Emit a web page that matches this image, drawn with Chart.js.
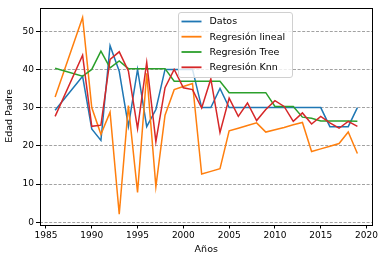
<!DOCTYPE html>
<html><head><meta charset="utf-8">
<script src="https://cdn.jsdelivr.net/npm/chart.js@4.4.1/dist/chart.umd.min.js"></script>
<style>html,body{margin:0;padding:0;background:#fff;overflow:hidden}#wrap{width:382px;height:261px;position:relative}</style>
</head><body><div id="wrap"><canvas id="c"></canvas></div>
<script>
const years  = [1986,1989,1990,1991,1992,1993,1994,1995,1996,1997,1998,1999,2000,2001,2002,2003,2004,2005,2006,2007,2008,2009,2010,2011,2012,2013,2014,2015,2016,2017,2018,2019];
const datos  = [29.3,38.2,24.4,21.4,46.2,39.5,25.1,40.0,25.0,29.5,40.0,40.0,40.0,40.0,30.0,30.0,35.0,30.0,30.0,30.0,30.0,30.0,30.0,30.0,30.0,30.0,30.0,30.0,25.0,25.0,25.0,30.0];
const lineal = [32.8,53.6,30.0,23.0,28.8,2.1,30.5,7.8,39.0,9.3,28.0,34.7,35.5,36.3,12.6,13.3,14.0,23.9,24.6,25.3,26.0,23.6,24.2,24.8,25.5,26.1,18.5,19.2,19.9,20.6,23.6,18.0];
const tree   = [40.3,38.2,40.0,44.8,40.4,42.2,40.2,40.2,40.2,40.2,40.2,36.9,36.9,36.9,36.9,36.9,36.9,33.9,33.9,33.9,33.9,33.9,30.3,30.3,30.3,27.5,27.2,26.5,26.5,26.5,26.5,26.4];
const knn    = [27.7,43.7,25.1,25.4,42.6,44.6,39.6,24.5,41.8,21.1,35.2,40.0,35.2,34.7,29.9,37.5,23.5,32.5,27.7,31.2,26.6,29.5,31.8,30.3,26.4,28.6,25.7,27.7,26.0,24.6,26.4,25.1];
const seriesNames  = ['Datos','Regresión lineal','Regresión Tree','Regresión Knn'];
const seriesColors = ['#1f77b4','#ff7f0e','#2ca02c','#d62728'];
const seriesValues = [datos, lineal, tree, knn];
const xTicks = [1985,1990,1995,2000,2005,2010,2015,2020];
const yTicks = [0,10,20,30,40,50];
const xTitle = 'Años';
const yTitle = 'Edad Padre';

const FONT = 'DejaVu Sans';

const datasets = seriesValues.map((vals, i) => ({
  label: seriesNames[i],
  data: years.map((y, j) => ({x: y, y: vals[j]})),
  borderColor: seriesColors[i],
  backgroundColor: seriesColors[i],
  borderWidth: 1.5,
  pointRadius: 0,
  tension: 0,
  fill: false,
  order: seriesValues.length - 1 - i
}));

const framePlugin = {
  id: 'frame',
  afterDatasetsDraw(chart) {
    const {ctx, chartArea: a} = chart;
    ctx.save();
    // legend
    const lx = 178.5, ly = 12.5, lw = 114, lh = 65;
    ctx.beginPath();
    if (ctx.roundRect) ctx.roundRect(lx, ly, lw, lh, 2.5); else ctx.rect(lx, ly, lw, lh);
    ctx.fillStyle = 'rgba(255,255,255,0.8)';
    ctx.fill();
    ctx.strokeStyle = '#d0d0d0';
    ctx.lineWidth = 1;
    ctx.stroke();
    const rows = [21.5, 36.7, 52.0, 67.3];
    ctx.font = '9.5px "' + FONT + '"';
    ctx.textBaseline = 'middle';
    ctx.textAlign = 'left';
    seriesNames.forEach((n, i) => {
      ctx.beginPath();
      ctx.moveTo(181.5, rows[i]);
      ctx.lineTo(201.5, rows[i]);
      ctx.strokeStyle = seriesColors[i];
      ctx.lineWidth = 1.8;
      ctx.stroke();
      ctx.fillStyle = '#000';
      ctx.fillText(n, 209.5, rows[i] + 0.5);
    });
    // frame
    ctx.strokeStyle = '#000';
    ctx.lineWidth = 1;
    ctx.strokeRect(Math.round(a.left) + 0.5, Math.round(a.top) + 0.5, Math.round(a.right - a.left) - 1, Math.round(a.bottom - a.top));
    ctx.restore();
  }
};

new Chart(document.getElementById('c'), {
  type: 'line',
  data: {datasets},
  options: {
    responsive: true,
    maintainAspectRatio: false,
    animation: false,
    devicePixelRatio: 1,
    layout: {padding: {top: 7.5, right: 9.5, left: 0, bottom: 0}},
    plugins: {legend: {display: false}, tooltip: {enabled: false}},
    scales: {
      x: {
        type: 'linear',
        min: 1984.35, max: 2020.65,
        afterBuildTicks: s => { s.ticks = xTicks.map(v => ({value: v})); },
        afterFit: s => { s.height = 36.5; s.paddingLeft = 0; s.paddingRight = 0; },
        ticks: {font: {family: FONT, size: 9}, color: '#000', padding: 2, maxRotation: 0, autoSkip: false, callback: v => String(v)},
        grid: {drawOnChartArea: false, drawTicks: true, tickLength: 4, tickColor: '#000', tickWidth: 1},
        border: {display: false},
        title: {display: true, text: xTitle, font: {family: FONT, size: 9.5}, color: '#000', padding: {top: 0, bottom: 6}}
      },
      y: {
        type: 'linear',
        min: -0.6, max: 56.2,
        afterBuildTicks: s => { s.ticks = yTicks.map(v => ({value: v})); },
        afterFit: s => { s.width = 40; s.paddingTop = 0; s.paddingBottom = 0; },
        ticks: {font: {family: FONT, size: 9}, color: '#000', padding: 2, callback: v => String(v)},
        grid: {drawOnChartArea: true, drawTicks: true, tickLength: 4, tickColor: '#000', tickWidth: 1, color: '#8a8a8a', lineWidth: 0.8, tickBorderDash: []},
        border: {display: false, dash: [3, 1.6]},
        title: {display: true, text: yTitle, font: {family: FONT, size: 9.5}, color: '#000', padding: {top: 4, bottom: 0}}
      }
    }
  },
  plugins: [framePlugin]
});
</script>
</body></html>
